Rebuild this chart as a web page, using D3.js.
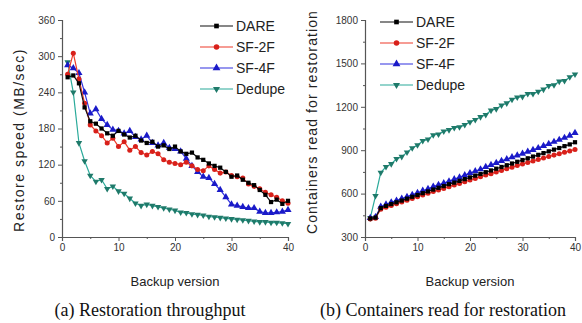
<!DOCTYPE html>
<html>
<head>
<meta charset="utf-8">
<script src="https://cdn.jsdelivr.net/npm/d3@7"></script>
<style>
  body { margin: 0; background: #fff; }
  svg { display: block; }
  .tick text { font-family: "Liberation Sans", Arial, sans-serif; font-size: 10px; fill: #333; }
</style>
</head>
<body>
<script>
// Data (backup versions 1..40)
const versions = d3.range(1, 41);
const seriesNames = ["DARE", "SF-2F", "SF-4F", "Dedupe"];

// (a) restore speed, MB/sec
const speedDARE = [265, 268, 255, 215, 192, 188, 180, 172, 168, 176, 170, 165, 168, 160, 156, 158, 150, 152, 146, 150,
                   142, 138, 140, 132, 128, 122, 118, 115, 108, 100, 102, 95, 90, 86, 78, 70, 58, 62, 55, 60];
const speedSF2F = [270, 305, 262, 222, 186, 176, 168, 156, 164, 150, 158, 144, 150, 140, 136, 142, 138, 128, 124, 122,
                   120, 124, 118, 112, 110, 118, 112, 106, 108, 102, 100, 98, 88, 84, 80, 74, 70, 66, 60, 56];
const speedSF4F = [285, 280, 272, 240, 205, 212, 196, 186, 178, 176, 172, 176, 166, 162, 168, 156, 152, 156, 148, 146,
                   142, 130, 118, 108, 100, 98, 88, 78, 66, 54, 52, 50, 48, 48, 42, 40, 40, 41, 42, 45];
const speedDedupe = [290, 240, 156, 126, 102, 92, 95, 80, 84, 76, 72, 64, 56, 52, 54, 52, 50, 48, 46, 44,
                     41, 40, 38, 37, 36, 34, 33, 32, 31, 30, 29, 28, 27, 26, 25, 25, 24, 24, 23, 22];

// (b) containers read for restoration
const contDARE = [428, 434, 500, 515, 528, 540, 552, 565, 578, 590, 603, 615, 628, 640, 652, 665, 676, 688, 700, 712,
                  724, 736, 748, 760, 772, 784, 796, 808, 820, 832, 844, 856, 868, 880, 892, 904, 915, 928, 940, 955];
const contSF2F = [425, 430, 492, 505, 518, 530, 542, 554, 566, 578, 590, 602, 614, 625, 636, 648, 660, 670, 682, 694,
                  705, 716, 728, 738, 750, 760, 772, 782, 794, 804, 815, 826, 836, 846, 856, 866, 876, 886, 895, 905];
const contSF4F = [432, 438, 510, 525, 540, 552, 565, 578, 592, 605, 620, 632, 648, 660, 672, 685, 700, 712, 728, 742,
                  755, 768, 784, 798, 812, 826, 838, 852, 864, 876, 890, 902, 915, 930, 944, 958, 972, 986, 1000, 1020];
const contDedupe = [430, 585, 745, 785, 805, 840, 855, 885, 915, 935, 965, 975, 1005, 1010, 1030, 1040, 1055, 1060, 1075, 1095,
                    1110, 1130, 1145, 1175, 1185, 1210, 1225, 1250, 1265, 1270, 1290, 1290, 1305, 1320, 1345, 1350, 1375, 1380, 1405, 1425];

const xTicks = [0, 10, 20, 30, 40];
const speedTicks = [0, 60, 120, 180, 240, 300, 360];
const contTicks = [300, 600, 900, 1200, 1500, 1800];

// styling per series
const styles = {
  "DARE":   { line: "#111", fill: "#000", symbol: d3.symbolSquare, size: 18 },
  "SF-2F":  { line: "#ee3a2a", fill: "#d8201a", symbol: d3.symbolCircle, size: 20 },
  "SF-4F":  { line: "#3030e0", fill: "#1a1ac8", symbol: d3.symbolTriangle, size: 22 },
  "Dedupe": { line: "#2aaa9a", fill: "#1f7a6a", symbol: d3.symbolTriangle, size: 18, flip: true }
};

const W = 582, H = 323;
const svg = d3.select("body").append("svg").attr("width", W).attr("height", H);

function panel(opts) {
  const x = d3.scaleLinear().domain([0, 40]).range(opts.xr);
  const y = d3.scaleLinear().domain(opts.yd).range([237, 20]);
  const g = svg.append("g");

  // minor ticks
  const xMinor = d3.range(5, 40, 10);
  const yMinor = d3.range(opts.yd[0] + opts.step / 2, opts.yd[1], opts.step);

  g.append("g").attr("transform", `translate(0,${y.range()[0]})`)
    .call(d3.axisBottom(x).tickValues(xTicks).tickSize(4).tickPadding(3));
  g.append("g").attr("transform", `translate(0,${y.range()[0]})`)
    .call(d3.axisBottom(x).tickValues(xMinor).tickSize(2).tickFormat(""))
    .select(".domain").remove();
  g.append("g").attr("transform", `translate(${opts.xr[0]},0)`)
    .call(d3.axisLeft(y).tickValues(opts.ticks).tickSize(4).tickPadding(3).tickFormat(d3.format("d")));
  g.append("g").attr("transform", `translate(${opts.xr[0]},0)`)
    .call(d3.axisLeft(y).tickValues(yMinor).tickSize(2).tickFormat(""))
    .select(".domain").remove();
  g.selectAll(".domain").attr("stroke", "#555").attr("stroke-width", 1.2);
  g.selectAll(".tick line").attr("stroke", "#555");

  // lines + markers (drawn in reverse so DARE ends on top)
  const line = d3.line().x((d, i) => x(versions[i])).y(d => y(d));
  seriesNames.slice().reverse().forEach(name => {
    const s = styles[name];
    const vals = opts.data[name];
    g.append("path").attr("d", line(vals)).attr("fill", "none")
      .attr("stroke", s.line).attr("stroke-width", 1.2);
    g.selectAll(null).data(vals).enter().append("path")
      .attr("d", d3.symbol(s.symbol, s.size))
      .attr("transform", (d, i) => `translate(${x(versions[i])},${y(d)})` + (s.flip ? " rotate(180)" : ""))
      .attr("fill", s.fill);
  });

  // legend
  seriesNames.forEach((name, i) => {
    const s = styles[name];
    const ly = opts.leg[1] + i * 21;
    const lx = opts.leg[0];
    g.append("line").attr("x1", lx).attr("x2", lx + 33).attr("y1", ly).attr("y2", ly)
      .attr("stroke", s.line).attr("stroke-width", 1.2);
    g.append("path").attr("d", d3.symbol(s.symbol, s.size * 1.2))
      .attr("transform", `translate(${lx + 16.5},${ly})` + (s.flip ? " rotate(180)" : ""))
      .attr("fill", s.fill);
    g.append("text").attr("x", lx + 36).attr("y", ly + 5).text(name)
      .attr("font-family", "Liberation Sans, Arial, sans-serif").attr("font-size", 14).attr("fill", "#222");
  });

  // axis titles
  g.append("text").attr("x", d3.mean(opts.xr)).attr("y", 286).attr("text-anchor", "middle")
    .attr("font-family", "Liberation Sans, Arial, sans-serif").attr("font-size", 13).attr("fill", "#222")
    .text("Backup version");
  g.append("text").attr("transform", `translate(${opts.titleX},${opts.titleY}) rotate(-90)`)
    .attr("text-anchor", "middle").attr("letter-spacing", opts.ls)
    .attr("font-family", "Liberation Sans, Arial, sans-serif").attr("font-size", 14).attr("fill", "#222")
    .text(opts.ylabel);
  g.append("text").attr("x", opts.capX).attr("y", 316).attr("text-anchor", "middle")
    .attr("font-family", "Liberation Serif, Times New Roman, serif").attr("font-size", 18).attr("fill", "#111")
    .text(opts.caption);
}

panel({
  xr: [62, 288], yd: [0, 360], step: 60, ticks: speedTicks,
  data: { "DARE": speedDARE, "SF-2F": speedSF2F, "SF-4F": speedSF4F, "Dedupe": speedDedupe },
  leg: [200, 26], ylabel: "Restore speed (MB/sec)", titleX: 24, titleY: 140, ls: 1.5,
  caption: "(a) Restoration throughput", capX: 150
});

panel({
  xr: [365, 575], yd: [300, 1800], step: 300, ticks: contTicks,
  data: { "DARE": contDARE, "SF-2F": contSF2F, "SF-4F": contSF4F, "Dedupe": contDedupe },
  leg: [380, 22], ylabel: "Containers read for restoration", titleX: 317, titleY: 122, ls: 1.1,
  caption: "(b) Containers read for restoration", capX: 443
});
</script>
</body>
</html>
